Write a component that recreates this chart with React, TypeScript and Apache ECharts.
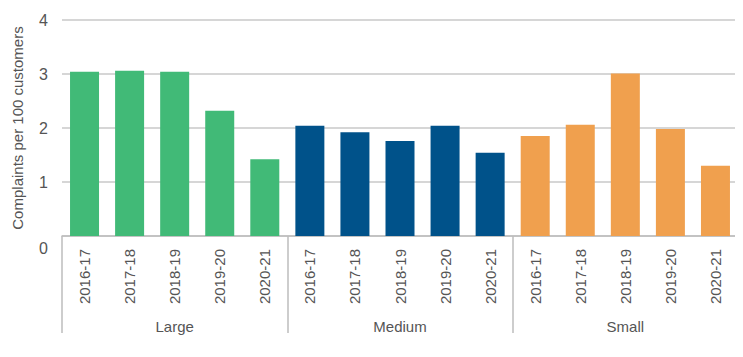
import React, { useEffect, useRef } from "react";
import * as echarts from "echarts";

const years = ["2016-17", "2017-18", "2018-19", "2019-20", "2020-21"];
const groups = ["Large", "Medium", "Small"];
const largeValues = [3.04, 3.06, 3.04, 2.32, 1.42];
const mediumValues = [2.04, 1.92, 1.76, 2.04, 1.54];
const smallValues = [1.85, 2.06, 3.01, 1.98, 1.3];
const groupColors = ["#41BA77", "#00528A", "#F0A04E"];
const yTicks = [0, 1, 2, 3, 4];

export default function App() {
  const ref = useRef<HTMLDivElement>(null);
  useEffect(() => {
    if (!ref.current) return;
    const chart = echarts.init(ref.current, null, { renderer: "svg" });
    const allValues = [largeValues, mediumValues, smallValues];
    const categories: string[] = [];
    const data: any[] = [];
    allValues.forEach((vals, gi) => {
      vals.forEach((v, i) => {
        categories.push(years[i]);
        data.push({ value: v, itemStyle: { color: groupColors[gi] } });
      });
    });
    const font = "Liberation Sans, Arial, sans-serif";
    const textColor = "#555";
    chart.setOption({
      animation: false,
      grid: { left: 62, right: 5, top: 20, bottom: 121, outerBoundsMode: "none", containLabel: false },
      xAxis: [
        {
          type: "category",
          data: categories,
          position: "bottom",
          axisLine: { show: true, lineStyle: { color: "#bdbdbd", width: 1.5 } },
          axisTick: { show: false },
          axisLabel: {
            rotate: 90,
            margin: 13,
            color: textColor,
            fontSize: 15,
            fontFamily: font,
            interval: 0,
          },
        },
        {
          type: "category",
          data: groups,
          position: "bottom",
          boundaryGap: true,
          axisLine: { show: false },
          axisTick: {
            show: true,
            length: 97,
            lineStyle: { color: "#bdbdbd", width: 1.5 },
          },
          axisLabel: {
            margin: 83,
            color: textColor,
            fontSize: 15,
            fontFamily: font,
          },
        },
      ],
      yAxis: {
        type: "value",
        min: yTicks[0],
        max: yTicks[yTicks.length - 1],
        interval: 1,
        name: "Complaints per 100 customers",
        nameLocation: "middle",
        nameGap: 37,
        nameTextStyle: { color: textColor, fontSize: 15, fontFamily: font },
        axisLine: { show: false },
        axisTick: { show: false },
        axisLabel: {
          margin: 14,
          color: textColor,
          fontSize: 16,
          fontFamily: font,
          formatter: (v: number) => (v === 0 ? "{z|0}" : String(v)),
          rich: { z: { padding: [24, 0, 0, 0], fontSize: 16, color: textColor, fontFamily: font } },
        },
        splitLine: { lineStyle: { color: "#c8c8c8", width: 1.5 } },
      },
      series: [
        {
          type: "bar",
          xAxisIndex: 0,
          data,
          barWidth: 29,
        },
      ],
    });
    return () => chart.dispose();
  }, []);
  return <div ref={ref} style={{ width: 743, height: 357, margin: -8 }} />;
}
